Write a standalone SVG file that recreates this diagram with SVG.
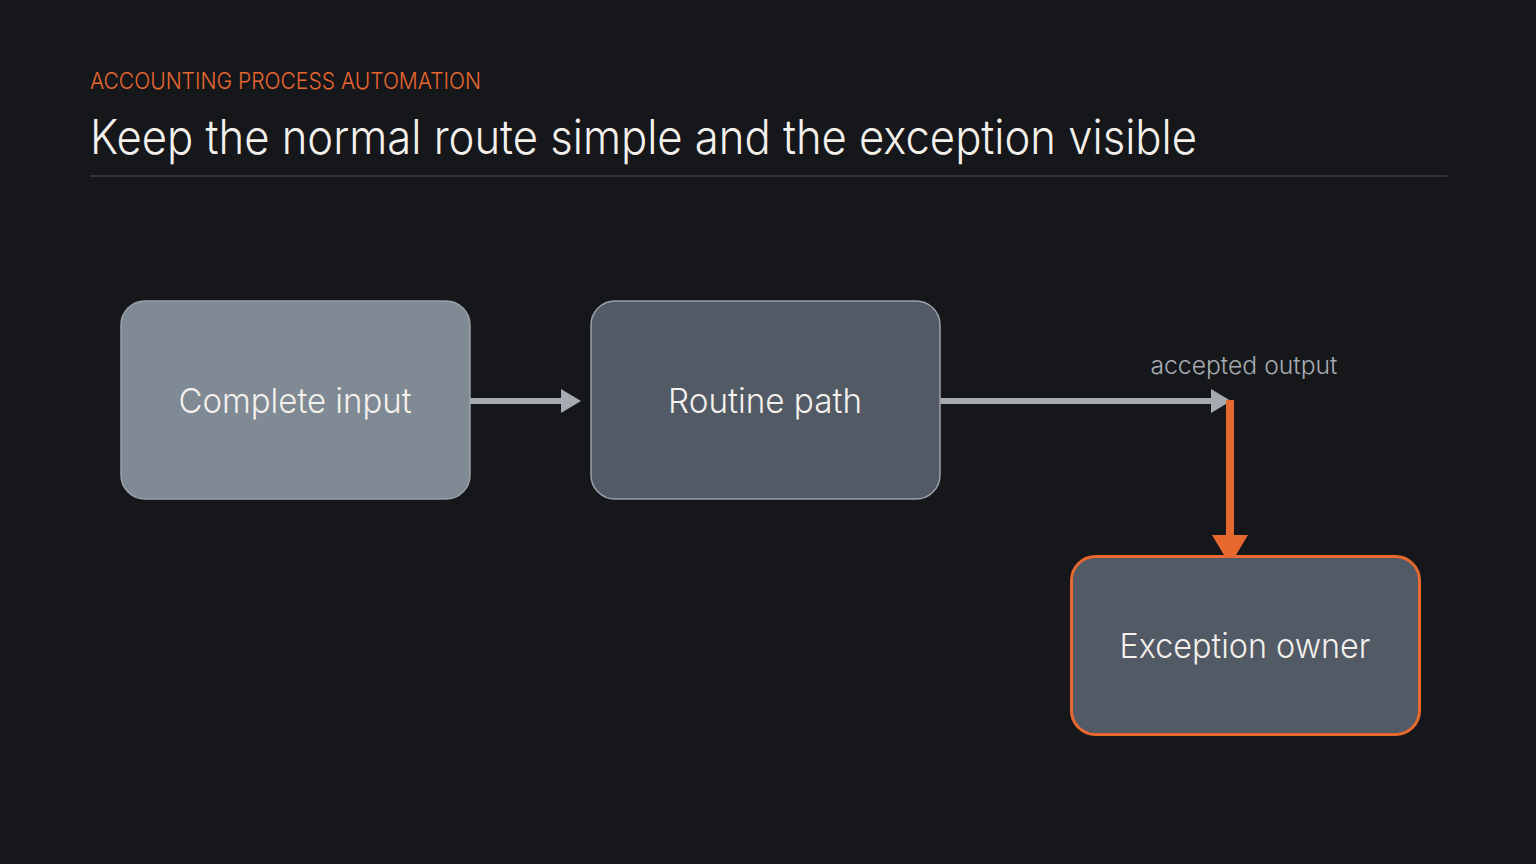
<svg xmlns="http://www.w3.org/2000/svg" width="1536" height="864" viewBox="0 0 1536 864">
<style>
text{font-family:Inter,"Noto Sans",sans-serif;font-weight:300}
.lbl{font-size:34px;fill:#f4f1ec;text-anchor:middle}
.box{stroke:#9aa1aa;stroke-width:1.5}
</style>
<rect width="1536" height="864" fill="#16171b"/>
<text x="90" y="89" font-size="23" fill="#e8672f" textLength="391" lengthAdjust="spacingAndGlyphs">ACCOUNTING PROCESS AUTOMATION</text>
<text x="90" y="154" font-size="48" fill="#f4f1ec" textLength="1107" lengthAdjust="spacingAndGlyphs">Keep the normal route simple and the exception visible</text>
<rect x="90" y="175" width="1357" height="2" fill="#30323a"/>
<g id="connectors">
<line x1="470" y1="401" x2="562" y2="401" stroke="#a6abb2" stroke-width="6"/>
<polygon points="561,389 581,401 561,413" fill="#a6abb2"/>
<line x1="940" y1="401" x2="1212" y2="401" stroke="#a6abb2" stroke-width="6"/>
<polygon points="1211,389 1231,401 1211,413" fill="#a6abb2"/>
<text x="1244" y="374" font-size="24" fill="#a6abb2" text-anchor="middle" textLength="187" lengthAdjust="spacingAndGlyphs">accepted output</text>
<line x1="1230" y1="400" x2="1230" y2="537" stroke="#e8692f" stroke-width="8"/>
<polygon points="1212,535 1248,535 1230,565" fill="#e8692f"/>
</g>
<g id="complete-input">
<rect class="box" x="121" y="301" width="349" height="198" rx="24" fill="#7f8a94"/>
<text class="lbl" x="295" y="413" textLength="233" lengthAdjust="spacingAndGlyphs">Complete input</text>
</g>
<g id="routine-path">
<rect class="box" x="591" y="301" width="349" height="198" rx="24" fill="#525a66"/>
<text class="lbl" x="765" y="413" textLength="194" lengthAdjust="spacingAndGlyphs">Routine path</text>
</g>
<g id="exception-owner">
<rect x="1071.5" y="556.5" width="348" height="178" rx="24" fill="#525a66" stroke="#e8692f" stroke-width="3"/>
<text class="lbl" x="1245" y="658" textLength="251" lengthAdjust="spacingAndGlyphs">Exception owner</text>
</g>
</svg>
